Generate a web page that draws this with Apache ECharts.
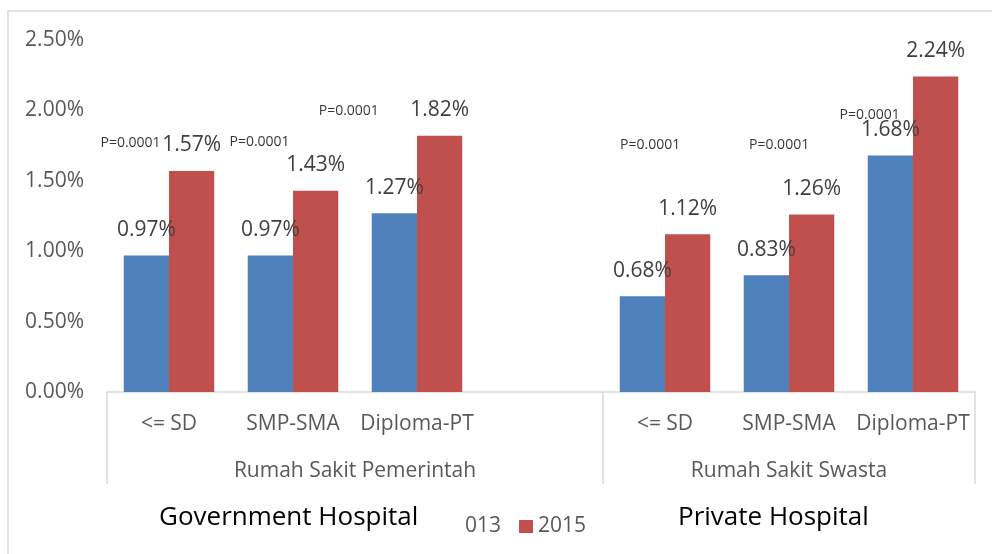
<!DOCTYPE html>
<html><head><meta charset="utf-8">
<script src="https://cdn.jsdelivr.net/npm/echarts@6/dist/echarts.min.js"></script>
<style>html,body{margin:0;padding:0;background:#fff}#c{width:992px;height:554px}</style>
</head><body><div id="c"></div>
<script>
const categories = ['<= SD', 'SMP-SMA', 'Diploma-PT', '', '<= SD', 'SMP-SMA', 'Diploma-PT'];
const groups = ['Rumah Sakit Pemerintah', 'Rumah Sakit Swasta'];
const groupCenters = [2, 5.5];
const groupBounds = [0, 4, 7];
const seriesNames = ['2013', '2015'];
const values2013 = [0.97, 0.97, 1.27, null, 0.68, 0.83, 1.68];
const values2015 = [1.57, 1.43, 1.82, null, 1.12, 1.26, 2.24];
const yTicks = [0, 0.5, 1.0, 1.5, 2.0, 2.5];
const pNoteText = ['P=0.0001', 'P=0.0001', 'P=0.0001', 'P=0.0001', 'P=0.0001', 'P=0.0001'];
const pNoteX = [0.19, 1.23, 1.95, 4.38, 5.42, 6.15];
const pNoteY = [1.766, 1.773, 1.993, 1.752, 1.752, 1.965];
const panelTitles = ['Government Hospital', 'Private Hospital'];

const FONT = "'Open Sans', 'DejaVu Sans', sans-serif";
const chart = echarts.init(document.getElementById('c'));
const dataLabel = {
  show: true, position: 'top', distance: 15,
  fontFamily: FONT, fontSize: 21, color: '#404040',
  formatter: p => p.value == null ? '' : p.value.toFixed(2) + '%'
};
chart.setOption({
  animation: false,
  textStyle: { fontFamily: FONT },
  grid: { left: 107, right: 17, top: 40, bottom: 162 },
  legend: {
    data: seriesNames, left: 429, top: 511, itemWidth: 14, itemHeight: 13, itemGap: 18,
    icon: 'rect', textStyle: { fontFamily: FONT, fontSize: 21, color: '#595959' }
  },
  xAxis: [{
    type: 'category', data: categories, position: 'bottom',
    axisLine: { show: true, lineStyle: { color: '#d9d9d9', width: 1.5 } },
    axisTick: { show: false },
    axisLabel: { fontFamily: FONT, fontSize: 21, color: '#595959', margin: 22, interval: 0 }
  }, {
    type: 'value', min: 0, max: 7, position: 'bottom',
    axisLine: { show: false },
    splitLine: { show: false },
    axisTick: { show: true, customValues: groupBounds, length: 92, lineStyle: { color: '#d9d9d9', width: 1.5 } },
    axisLabel: {
      customValues: groupCenters, fontFamily: FONT, fontSize: 21, color: '#595959', margin: 69,
      formatter: v => groups[groupCenters.indexOf(v)]
    }
  }],
  yAxis: {
    type: 'value', min: 0, max: 2.5, interval: 0.5,
    axisLine: { show: false }, axisTick: { show: false }, splitLine: { show: false },
    axisLabel: { fontFamily: FONT, fontSize: 21, color: '#595959', margin: 23, formatter: v => v.toFixed(2) + '%' }
  },
  series: [{
    name: seriesNames[0], type: 'bar', data: values2013, xAxisIndex: 0,
    barGap: '0%', barCategoryGap: '27%', itemStyle: { color: '#4F81BD' }, label: dataLabel
  }, {
    name: seriesNames[1], type: 'bar', data: values2015, xAxisIndex: 0,
    itemStyle: { color: '#C0504D' }, label: dataLabel
  }, {
    type: 'scatter', xAxisIndex: 1, symbolSize: 0, silent: true, legendHoverLink: false,
    data: pNoteX.map((x, i) => ({ value: [x, pNoteY[i]], name: pNoteText[i] })),
    label: { show: true, position: 'inside', formatter: p => p.name, fontFamily: FONT, fontSize: 14, color: '#000' },
    z: 5
  }],
  graphic: [
    { type: 'rect', z: -10, shape: { x: 8, y: 11, width: 1000, height: 600 }, style: { fill: 'none', stroke: '#d9d9d9', lineWidth: 1.5 } },
    { type: 'rect', z: 100, shape: { x: 140, y: 497, width: 324, height: 50 }, style: { fill: '#fff' } },
    { type: 'text', z: 101, left: 159, top: 505, style: { text: panelTitles[0], font: "26px " + FONT, fill: '#000' } },
    { type: 'text', z: 101, left: 678, top: 505, style: { text: panelTitles[1], font: "26px " + FONT, fill: '#000' } }
  ]
});
</script></body></html>
